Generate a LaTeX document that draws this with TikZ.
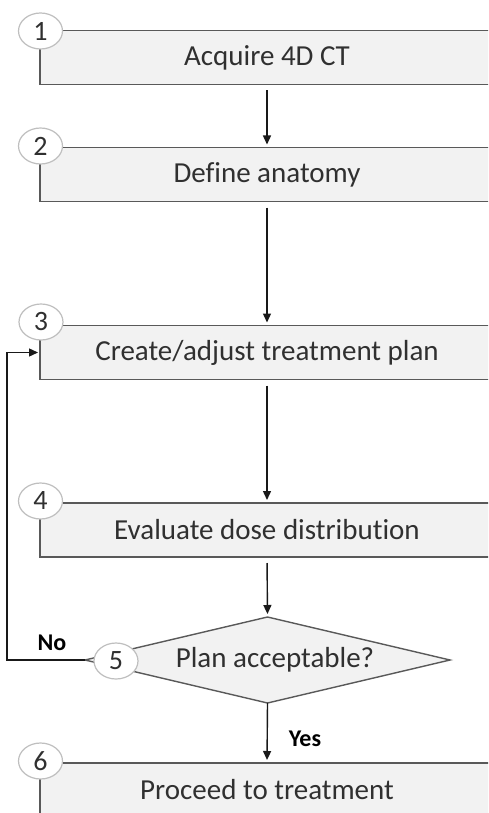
\documentclass[tikz,border=0pt]{standalone}
\usepackage{fontspec}
\setmainfont{Carlito}[Ligatures=CommonOff]
\usetikzlibrary{arrows.meta,shapes.geometric}

\definecolor{boxfill}{HTML}{F2F2F2}
\definecolor{boxline}{HTML}{595959}
\definecolor{ringline}{HTML}{BFBFBF}
\definecolor{txt}{HTML}{303030}

\tikzset{
  stepbox/.style={draw=boxline, line width=1.4pt, fill=boxfill, rectangle,
    minimum width=454pt, minimum height=54pt, inner sep=0pt, outer sep=0pt,
    text=txt, font=\fontsize{29}{32}\selectfont},
  decision/.style={draw=boxline, line width=1.4pt, fill=boxfill, diamond,
    minimum width=365pt, minimum height=86pt, inner sep=0pt, outer sep=0pt},
  qtext/.style={text=txt, font=\fontsize{29}{32}\selectfont, inner sep=0pt},
  numring/.style={ellipse, draw=ringline, line width=1.2pt, fill=white,
    minimum width=44pt, minimum height=36pt, inner sep=0pt, text=txt,
    font=\fontsize{28}{30}\selectfont},
  flow/.style={draw=black!90, line width=1.4pt,
    -{Triangle[length=9pt,width=8pt]}},
  choice/.style={text=black, font=\bfseries\fontsize{24}{27}\selectfont, inner sep=0pt}
}

\begin{document}
\begin{tikzpicture}[x=1pt,y=-1pt]
  \useasboundingbox (0,0) rectangle (488,813);
  \clip (0,0) rectangle (488,813);

  % process steps
  \node[stepbox] (b1) at (267,57.5) {Acquire 4D CT};
  \node[stepbox] (b2) at (267,174.5) {Define anatomy};
  \node[stepbox] (b3) at (267,352.5) {Create/adjust treatment plan};
  \node[stepbox] (b4) at (267,530) {Evaluate dose distribution};
  \node[decision] (d5) at (267.5,660) {};
  \node[qtext] (q5) at (275,660) {Plan acceptable?};
  \node[stepbox] (b6) at (267,790) {Proceed to treatment};

  % connectors
  \draw[flow, shorten <=6pt, shorten >=3pt] (b1.south) -- (b2.north);
  \draw[flow, shorten <=6pt, shorten >=3pt] (b2.south) -- (b3.north);
  \draw[flow, shorten <=6pt, shorten >=3pt] (b3.south) -- (b4.north);
  \draw[flow, shorten <=6pt, shorten >=3pt] (b4.south) -- (d5.north);
  \draw[flow, shorten >=3pt] (d5.south) -- (b6.north);
  \coordinate (loop) at (7,352.5);
  \draw[flow, shorten >=2pt] (d5.west) -| (loop) -- (b3.west);

  % branch labels
  \node[choice] (no) at (52,643) {No};
  \node[choice] (yes) at (305,739) {Yes};

  % step numbers
  \node[numring] (n1) at (40.5,31) {1};
  \node[numring] (n2) at (40.5,146) {2};
  \node[numring] (n3) at (41,322) {3};
  \node[numring] (n4) at (40.5,501) {4};
  \node[numring] (n5) at (116,661) {5};
  \node[numring] (n6) at (40.5,761) {6};
\end{tikzpicture}
\end{document}
